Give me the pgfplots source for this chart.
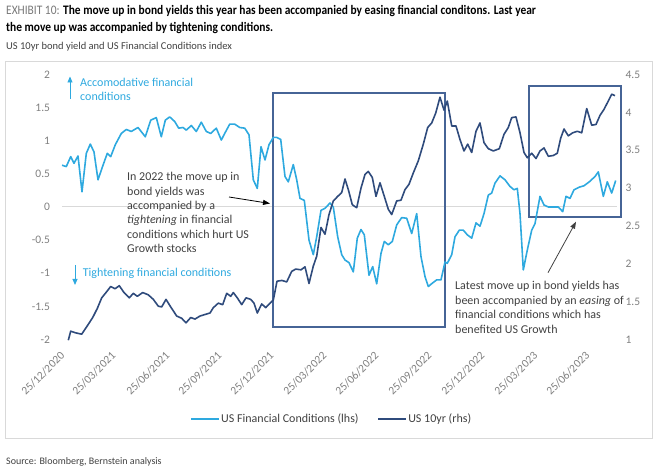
\documentclass[border=0pt]{standalone}
\usepackage{fontspec}
\setmainfont{Carlito}
\usepackage{graphicx}
\usepackage{pgfplots}
\usepackage{pgfplotstable}
\pgfplotsset{compat=1.18}
\usetikzlibrary{arrows.meta}
\definecolor{lblue}{RGB}{46,169,223}
\definecolor{dblue}{RGB}{47,75,124}
\definecolor{boxc}{RGB}{70,100,150}
\definecolor{tickgray}{RGB}{128,128,128}
\definecolor{textdark}{RGB}{64,64,64}
\definecolor{framegray}{RGB}{217,217,217}
\definecolor{exgray}{RGB}{120,120,120}

\pgfplotstableread{
x y
62 0.63
66.3 0.61
70.7 0.76
74 0.66
78 0.77
82 0.23
86.3 0.81
90.3 0.95
94 0.83
98 0.41
103 0.63
107.3 0.81
110.7 0.76
115.3 0.94
121.3 1.11
126.3 1.17
131.3 1.14
138 1.20
145.3 1.06
150.7 1.31
156.3 1.35
161.3 1.06
165.3 1.31
169.7 1.36
174.7 1.29
178.7 1.19
183 1.20
186.3 1.16
191.3 1.23
196.3 1.14
201.3 1.28
206.3 1.14
210.7 1.11
216.3 1.19
221.3 1.01
224.7 1.11
229.7 1.25
234.7 1.25
239.7 1.20
244.7 1.19
249 1.09
253.3 0.41
257.3 0.28
261 0.91
265 0.71
269 0.94
273.3 1.05
276.7 1.05
280.7 1.02
285 0.46
288.3 0.38
293.3 0.64
296.7 0.41
300 0.13
304.3 0.10
309 -0.50
313.3 -0.72
316.7 -0.45
321 -0.05
325 -0.02
330 0.06
333.3 0.00
337.7 -0.45
341.7 -0.72
345 -0.80
349 -0.84
353.3 -0.98
357.3 -0.47
361 -0.34
364.3 -0.42
369 -1.03
372.7 -0.90
376.7 -1.16
381 -0.70
384.3 -0.52
388.3 -0.57
392.3 -0.52
396.7 -0.27
401.7 -0.16
406.7 -0.17
411.7 -0.40
416.7 -0.10
421 -0.75
425 -1.05
428.3 -1.20
432.3 -1.15
436.7 -1.10
441 -1.10
445 -0.83
447.3 -0.85
451.7 -0.72
455 -0.45
459.3 -0.35
463.3 -0.35
467.3 -0.42
471.7 -0.47
476 -0.24
480 -0.29
484 -0.10
488.3 0.18
491.7 0.21
495 0.36
500 0.47
505 0.41
510 0.31
514 0.26
517.3 0.28
520 -0.10
523.3 -0.95
527.3 -0.65
531.7 -0.35
535 -0.25
540 0.16
544 0.03
548.3 0.00
553.3 0.00
558.3 0.00
562.7 -0.07
566 0.16
570 0.13
574 0.26
579.3 0.30
584 0.32
589.3 0.38
595 0.46
598.3 0.53
603.3 0.16
607.3 0.38
611.7 0.21
615.7 0.40
}\fci

\pgfplotstableread{
x y
68.3 0.99
70.7 1.11
75 1.09
81.7 1.07
87.3 1.18
92.7 1.29
97.3 1.41
101.7 1.55
106 1.62
110.7 1.70
115 1.67
119.3 1.71
124 1.62
129.3 1.55
133.3 1.61
137.3 1.57
142.7 1.62
148.3 1.59
153.3 1.53
158.3 1.44
161.7 1.43
166 1.53
170.7 1.43
176.7 1.31
181.7 1.28
186 1.22
190.7 1.29
195 1.27
200 1.31
205 1.33
210 1.35
213.3 1.42
218.3 1.48
222.7 1.46
226.7 1.61
230.7 1.57
233.3 1.62
237.3 1.55
241.7 1.46
246 1.55
250.7 1.53
254 1.48
257.3 1.35
261.7 1.47
265.7 1.42
270 1.48
273.3 1.52
277 1.77
282 1.78
286.7 1.76
291.7 1.90
295.7 1.93
301 1.92
305 1.96
309 1.74
313.3 1.97
316.7 2.10
321 2.48
325 2.39
329 2.65
333.3 2.83
337.7 2.89
341.7 2.94
345 3.12
348.3 2.98
352.3 2.78
356.7 2.74
361 3.00
365 3.18
368.3 3.22
372.3 3.14
376 2.89
380 3.07
384.3 2.89
388.3 2.72
391.7 2.65
396.7 2.83
401 2.84
405 2.98
409 3.05
413.3 3.20
418.3 3.36
423.3 3.58
427.7 3.80
431.7 3.86
435.7 3.99
440 4.20
444 4.03
447.3 4.15
451.7 3.82
456 3.82
460 3.64
464 3.49
467.7 3.58
471.7 3.47
476 3.75
480 3.86
484 3.60
488.3 3.52
493.3 3.49
499.3 3.52
504 3.71
508.3 3.80
511.7 3.93
516 3.94
520 3.73
524 3.47
527.3 3.40
531.7 3.46
536 3.39
540 3.49
544 3.53
548.3 3.42
553.3 3.43
557.3 3.46
560.7 3.66
564 3.78
568.3 3.69
572.7 3.73
577.3 3.75
581.7 3.73
586.7 4.05
591.7 3.83
596 3.84
600 3.96
604 4.04
608.3 4.15
611.7 4.24
615 4.22
}\yld

\begin{document}
\begin{tikzpicture}[x=1bp,y=1bp]
\useasboundingbox (0,0) rectangle (660,472);
% frame
\draw[framegray, line width=0.8bp] (5,34) rectangle (652,411);

\pgfplotsset{
  base/.style={
    at={(52bp,132.5bp)}, anchor=south west,
    scale only axis, width=570bp, height=265bp,
    xmin=52, xmax=622, clip=false,
    axis line style={draw=none}, tick style={draw=none},
    tick label style={font=\fontsize{11.5bp}{13bp}\selectfont, text=tickgray},
  }
}

\begin{axis}[base,
  ymin=-2, ymax=2,
  ytick={-2,-1.5,-1,-0.5,0,0.5,1,1.5,2},
  yticklabels={-2,-1.5,-1,-0.5,0,0.5,1,1.5,2},
  yticklabel style={xshift=1.5bp},
  xtick={62,113,167,219,271,324,376,429,482,535,587},
  xticklabels={25/12/2020,25/03/2021,25/06/2021,25/09/2021,25/12/2021,25/03/2022,25/06/2022,25/09/2022,25/12/2022,25/03/2023,25/06/2023},
  xticklabel style={yshift=-12bp, xshift=3bp, rotate=45, anchor=east},
]
\draw[framegray, line width=1bp] (axis cs:62,0) -- (axis cs:617,0);
\draw[boxc, line width=1.3bp] (axis cs:273,-1.811) rectangle (axis cs:445,1.721);
\draw[boxc, line width=1.3bp] (axis cs:529,-0.151) rectangle (axis cs:621,1.826);
\addplot[lblue, line width=1.6bp, line join=round] table[x=x,y=y]{\fci};
\end{axis}

\begin{axis}[base,
  hide x axis,
  ymin=1, ymax=4.5,
  ytick={1,1.5,2,2.5,3,3.5,4,4.5},
  yticklabels={1,1.5,2,2.5,3,3.5,4,4.5},
  yticklabel pos=right,
  yticklabel style={anchor=west},
  legend columns=2,
  legend style={at={(0.49,-0.30)}, anchor=center, draw=none, fill=none,
    font=\fontsize{12bp}{14bp}\selectfont, text=textdark,
    /tikz/every even column/.append style={column sep=18bp},
    nodes={inner sep=1bp}},
  legend image code/.code={\draw[#1] (0bp,0bp) -- (28bp,0bp);},
]
\addlegendimage{lblue, line width=1.8bp}
\addlegendentry{US Financial Conditions (lhs)}
\addplot[dblue, line width=1.6bp, line join=round] table[x=x,y=y]{\yld};
\addlegendentry{US 10yr (rhs)}
\end{axis}

% Titles
\node[anchor=base west, inner sep=0] at (6,457) {\scalebox{0.88}[1]{\fontsize{13bp}{15bp}\selectfont{\color{exgray}EXHIBIT 10:} \textbf{The move up in bond yields this year has been accompanied by easing financial conditons. Last year}}};
\node[anchor=base west, inner sep=0] at (6,440) {\scalebox{0.88}[1]{\fontsize{13bp}{15bp}\selectfont\textbf{the move up was accompanied by tightening conditions.}}};
\node[anchor=base west, inner sep=0, text=textdark] at (6,422) {\fontsize{10.5bp}{12bp}\selectfont US 10yr bond yield and US Financial Conditions index};
\node[anchor=base west, inner sep=0, text=textdark] at (6,7) {\fontsize{10bp}{12bp}\selectfont Source: Bloomberg, Bernstein analysis};

% light blue side annotations
\begin{scope}[font=\fontsize{12bp}{14bp}\selectfont]
\node[anchor=base west, inner sep=0, text=lblue] at (80,385.5) {Accomodative financial};
\node[anchor=base west, inner sep=0, text=lblue] at (80,371.5) {conditions};
\node[anchor=base west, inner sep=0, text=lblue] at (82.7,195) {Tightening financial conditions};
\draw[lblue, line width=0.9bp, -{Triangle[width=5bp,length=6bp]}] (70,373) -- (70,395.5);
\draw[lblue, line width=0.9bp, -{Triangle[width=5bp,length=6bp]}] (75,207) -- (75,187);

% annotation 1
\foreach \t/\yy in {{In 2022 the move up in}/291, {bond yields was}/276.7, {accompanied by a}/262.4, {\textit{tightening} in financial}/248.1, {conditions which hurt US}/233.8, {Growth stocks}/219.5}{
  \node[anchor=base west, inner sep=0, text=textdark] at (127,\yy) {\t};
}
\draw[black, line width=0.8bp, -{Triangle[width=5bp,length=7bp]}] (229,275) -- (270,268.5);

% annotation 2
\foreach \t/\yy in {{Latest move up in bond yields has}/182, {been accompanied by an \textit{easing} of}/167.5, {financial conditions which has}/153, {benefited US Growth}/138.5}{
  \node[anchor=base west, inner sep=0, text=textdark] at (455,\yy) {\t};
}
\draw[textdark, line width=0.8bp, -{Triangle[width=5bp,length=7bp]}] (548,199.3) -- (576,250.3);
\end{scope}
\end{tikzpicture}
\end{document}
